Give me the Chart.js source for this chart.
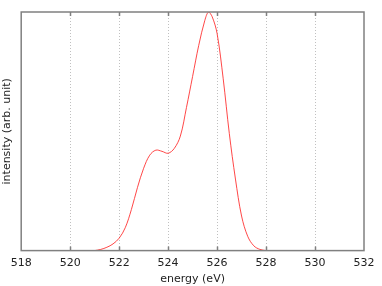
<!DOCTYPE html>
<html>
<head>
<meta charset="utf-8">
<script src="https://cdn.jsdelivr.net/npm/chart.js@4"></script>
<style>
  html, body { margin: 0; padding: 0; background: #fff; }
  #wrap { width: 382px; height: 286px; }
</style>
</head>
<body>
<div id="wrap"><canvas id="chart"></canvas></div>
<script>
// energy (eV) and intensity
const energy = [521.0, 521.25, 521.5, 521.75, 522.0, 522.25, 522.5, 522.75, 523.0, 523.25,
    523.5, 523.75, 524.0, 524.25, 524.5, 524.75, 525.0, 525.25, 525.5, 525.65,
    525.8, 526.0, 526.25, 526.5, 526.75, 527.0, 527.25, 527.5, 527.75, 528.0]
const intensity = [0.0, 0.005, 0.014, 0.028, 0.052, 0.096, 0.172, 0.265, 0.345, 0.40,
    0.421, 0.416, 0.408, 0.428, 0.48, 0.60, 0.73, 0.86, 0.965, 1.0,
    0.98, 0.91, 0.72, 0.49, 0.30, 0.145, 0.06, 0.02, 0.005, 0.0]
const xTicks = [518, 520, 522, 524, 526, 528, 530, 532]

// frame round the plot with inward tick marks, like the original
const framePlugin = {
    id: 'frame',
    afterDraw(chart) {
        const { ctx, chartArea: a, scales } = chart
        ctx.save()
        ctx.strokeStyle = '#808080'
        ctx.lineWidth = 1.5
        ctx.strokeRect(a.left, a.top, a.right - a.left, a.bottom - a.top)
        ctx.beginPath()
        xTicks.slice(1, -1).forEach(t => {
            const px = Math.round(scales.x.getPixelForValue(t)) + 0.5
            ctx.moveTo(px, a.bottom); ctx.lineTo(px, a.bottom - 4)
            ctx.moveTo(px, a.top); ctx.lineTo(px, a.top + 4)
        })
        ctx.stroke()
        ctx.restore()
    }
}

new Chart(document.getElementById('chart'), {
    type: 'line',
    data: {
        datasets: [{
            data: energy.map((e, i) => ({ x: e, y: intensity[i] })),
            borderColor: 'rgba(255, 40, 40, 0.85)',
            borderWidth: 1,
            pointRadius: 0,
            fill: false,
            tension: 0.35
        }]
    },
    options: {
        responsive: true,
        maintainAspectRatio: false,
        animation: false,
        layout: { padding: { left: 1, right: 18, top: 12, bottom: 0 } },
        plugins: { legend: { display: false }, tooltip: { enabled: false } },
        scales: {
            x: {
                type: 'linear',
                min: 518,
                max: 532,
                afterBuildTicks: s => { s.ticks = xTicks.map(v => ({ value: v })) },
                ticks: { color: '#222', font: { family: 'DejaVu Sans', size: 11 }, padding: 6, maxRotation: 0 },
                grid: {
                    drawTicks: false,
                    color: c => (c.tick && (c.tick.value === 518 || c.tick.value === 532)) ? 'rgba(0,0,0,0)' : '#c0c0c0',
                    lineWidth: 1
                },
                border: { display: false, dash: [1, 2] },
                title: { display: true, text: 'energy (eV)', color: '#222', font: { family: 'DejaVu Sans', size: 11 }, padding: { top: -3, bottom: 0 } }
            },
            y: {
                min: 0,
                max: 1,
                ticks: { display: false },
                grid: { display: false, drawTicks: false },
                border: { display: false },
                title: { display: true, text: 'intensity (arb. unit)', color: '#222', font: { family: 'DejaVu Sans', size: 11 }, padding: { top: 0, bottom: 7 } }
            }
        }
    },
    plugins: [framePlugin]
})
</script>
</body>
</html>
